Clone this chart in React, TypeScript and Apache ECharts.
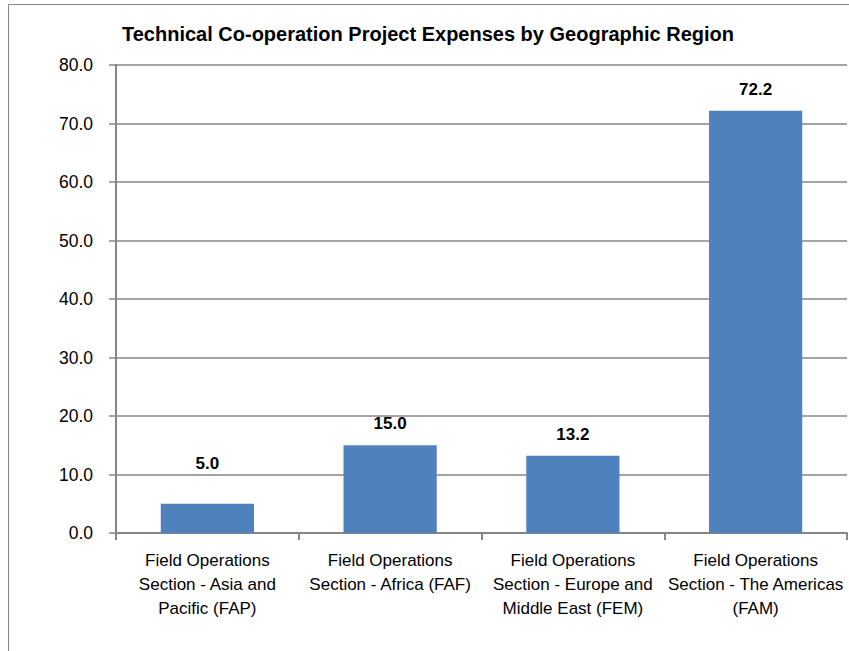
import React, { useEffect, useRef } from "react";
import * as echarts from "echarts";

const titleText = "Technical Co-operation Project Expenses by Geographic Region";
const categories = [
  "Field Operations\nSection - Asia and\nPacific (FAP)",
  "Field Operations\nSection - Africa (FAF)",
  "Field Operations\nSection - Europe and\nMiddle East (FEM)",
  "Field Operations\nSection - The Americas\n(FAM)",
];
const values = [5.0, 15.0, 13.2, 72.2];
const yMin = 0;
const yMax = 80;
const yInterval = 10;

const FONT = "'Liberation Sans', Arial, sans-serif";

export default function App() {
  const ref = useRef<HTMLDivElement>(null);
  useEffect(() => {
    if (!ref.current) return;
    const chart = echarts.init(ref.current, undefined, { renderer: "svg" });
    chart.setOption({
      animation: false,
      backgroundColor: "#ffffff",
      textStyle: { fontFamily: FONT },
      title: {
        text: titleText,
        left: 117,
        top: 19,
        textStyle: { fontFamily: FONT, fontSize: 20, fontWeight: "bold", color: "#000" },
      },
      graphic: [
        {
          type: "rect",
          shape: { x: 8.5, y: 4.5, width: 900, height: 700 },
          style: { fill: "none", stroke: "#868686", lineWidth: 1 },
          silent: true,
        },
      ],
      grid: { left: 116, right: 2, top: 65, bottom: 118, containLabel: false },
      xAxis: {
        type: "category",
        data: categories,
        axisLine: { show: true, lineStyle: { color: "#868686", width: 2 } },
        axisTick: { show: true, alignWithLabel: false, length: 7, lineStyle: { color: "#868686", width: 2 } },
        axisLabel: {
          interval: 0,
          margin: 15,
          fontFamily: FONT,
          fontSize: 17,
          lineHeight: 24,
          color: "#000",
          verticalAlign: "top",
        },
      },
      yAxis: {
        type: "value",
        min: yMin,
        max: yMax,
        interval: yInterval,
        axisLine: { show: true, lineStyle: { color: "#868686", width: 2 } },
        axisTick: { show: true, length: 7, lineStyle: { color: "#868686", width: 1.5 } },
        splitLine: { show: true, lineStyle: { color: "#868686", width: 1.5 } },
        axisLabel: {
          margin: 23,
          fontFamily: FONT,
          fontSize: 17.5,
          color: "#000",
          formatter: (v: number) => v.toFixed(1),
        },
      },
      series: [
        {
          type: "bar",
          data: values.map((v, i) => (i === 0 ? { value: v, label: { distance: 32 } } : v)),
          barWidth: "51%",
          itemStyle: { color: "#4F81BD" },
          label: {
            show: true,
            position: "top",
            distance: 13,
            fontFamily: FONT,
            fontSize: 17,
            fontWeight: "bold",
            color: "#000",
            formatter: (p: any) => Number(p.value).toFixed(1),
          },
        },
      ],
    });
    return () => chart.dispose();
  }, []);
  return (
    <div
      ref={ref}
      style={{ position: "fixed", left: 0, top: 0, width: 849, height: 651 }}
    />
  );
}
